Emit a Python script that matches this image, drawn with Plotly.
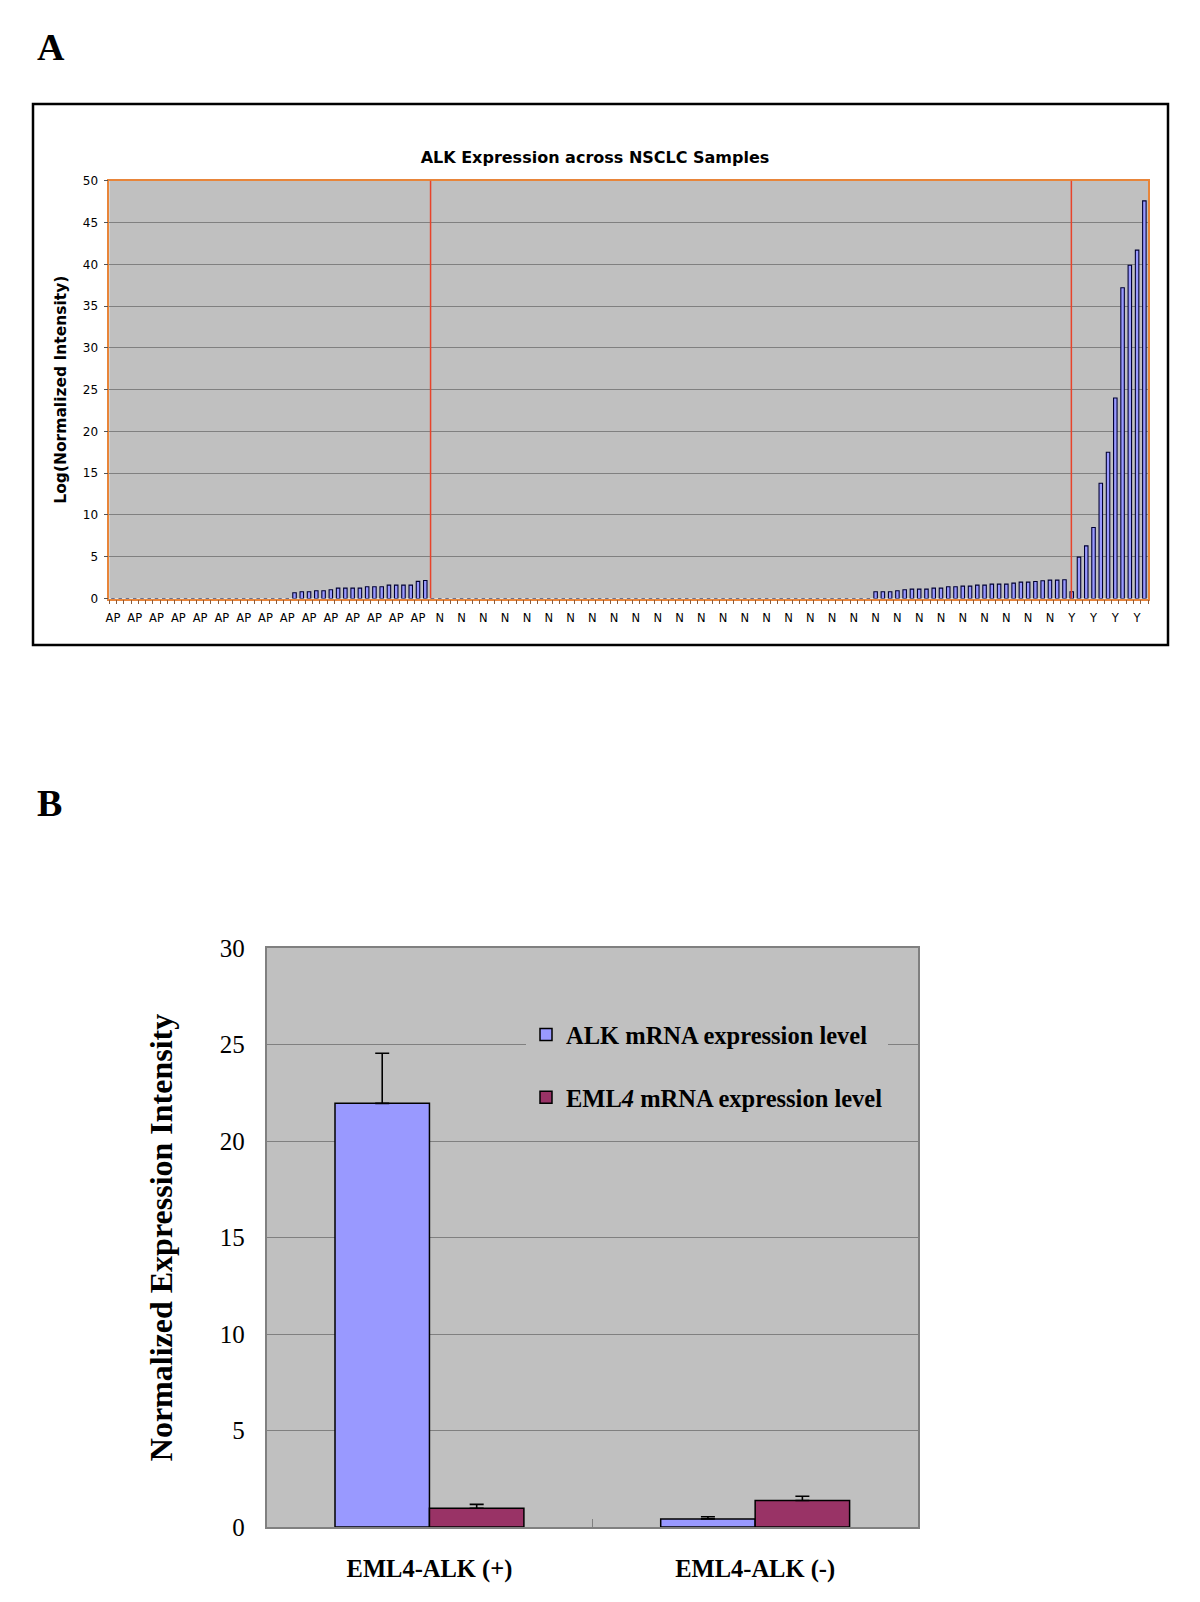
import plotly.graph_objects as go

# ---------------- Panel A data ----------------
ap_values = [0, 0, 0, 0, 0, 0, 0, 0, 0, 0, 0, 0, 0, 0, 0, 0, 0, 0, 0, 0, 0, 0, 0, 0, 0,
             0.68, 0.8, 0.8, 0.92, 0.92, 1.04, 1.24, 1.24, 1.24, 1.24, 1.4, 1.4, 1.4,
             1.6, 1.6, 1.6, 1.6, 2.05, 2.15]
n_values = [0, 0, 0, 0, 0, 0, 0, 0, 0, 0, 0, 0, 0, 0, 0, 0, 0, 0, 0, 0,
            0, 0, 0, 0, 0, 0, 0, 0, 0, 0, 0, 0, 0, 0, 0, 0, 0, 0, 0, 0,
            0, 0, 0, 0, 0, 0, 0, 0, 0, 0, 0, 0, 0, 0, 0, 0, 0, 0, 0, 0, 0,
            0.8, 0.8, 0.8, 0.92, 1.04, 1.12, 1.12, 1.12, 1.24, 1.24, 1.4, 1.4, 1.48,
            1.48, 1.6, 1.6, 1.72, 1.72, 1.72, 1.84, 1.96, 1.96, 2.04, 2.12, 2.2, 2.2, 2.25]
y_values = [0.8, 4.95, 6.3, 8.5, 13.8, 17.5, 24.0, 37.2, 39.9, 41.7, 47.6]
group_names = ["AP", "N", "Y"]

# ---------------- Panel B data ----------------
b_categories = ["EML4-ALK (+)", "EML4-ALK (-)"]
alk_values = [21.95, 0.42]
alk_errors = [2.6, 0.11]
eml4_values = [0.97, 1.37]
eml4_errors = [0.2, 0.22]

# ---------------- derived ----------------
all_values = ap_values + n_values + y_values
all_groups = ([group_names[0]] * len(ap_values) + [group_names[1]] * len(n_values)
              + [group_names[2]] * len(y_values))
x_idx = list(range(len(all_values)))
tick_idx = x_idx[::3]
tick_txt = [all_groups[i] for i in tick_idx]
sep1 = len(ap_values) - 0.27
sep2 = len(ap_values) + len(n_values) - 0.05

W, H = 1200, 1602
OFF = 8  # page body margin compensation
def px(x):
    return (x - OFF) / W
def py(y):
    return 1 - (y - OFF) / H

fig = go.Figure()

fig.add_trace(go.Bar(
    x=x_idx, y=all_values, width=0.48,
    marker=dict(color="#9999FF", line=dict(color="#000033", width=1.1)),
    xaxis="x", yaxis="y", showlegend=False, hoverinfo="x+y"))

fig.add_trace(go.Bar(
    x=b_categories, y=alk_values, name="ALK mRNA expression level",
    legendgroup="alk",
    marker=dict(color="#9999FF", line=dict(color="#000000", width=1.5)),
    error_y=dict(type="data", symmetric=False, array=alk_errors, arrayminus=[0, 0],
                 color="#000000", thickness=1.6, width=7),
    xaxis="x2", yaxis="y2"))
fig.add_trace(go.Bar(
    x=b_categories, y=eml4_values, name="EML<i>4</i> mRNA expression level",
    legendgroup="eml4",
    marker=dict(color="#993366", line=dict(color="#000000", width=1.5)),
    error_y=dict(type="data", symmetric=False, array=eml4_errors, arrayminus=[0, 0],
                 color="#000000", thickness=1.6, width=7),
    xaxis="x2", yaxis="y2"))

sansA = "DejaVu Sans"
serif = "Liberation Serif"
orange = "#E8853A"

fig.update_layout(
    width=W, height=H, margin=dict(l=0, r=0, t=0, b=0, autoexpand=False),
    paper_bgcolor="white", plot_bgcolor="#C0C0C0",
    barmode="group", bargap=0.42, bargroupgap=0,
    title=dict(text="ALK Expression across NSCLC Samples", x=px(595), y=py(157),
               xanchor="center", yanchor="middle",
               font=dict(family=sansA, size=16, color="#000000", weight="bold")),
    xaxis=dict(domain=[px(109.3), px(1148)], anchor="y", range=[-0.5, len(all_values) - 0.5],
               automargin=False,
               tickmode="array", tickvals=tick_idx, ticktext=tick_txt, ticks="",
               tickfont=dict(family=sansA, size=11.5, color="#000000"),
               ticklabelstandoff=8,
               minor=dict(tickmode="linear", tick0=-0.5, dtick=1, ticks="outside",
                          ticklen=4, tickcolor="#8a5a3a", showgrid=False),
               showgrid=False, zeroline=False,
               showline=True, linecolor=orange, linewidth=1.5, mirror=True),
    yaxis=dict(domain=[py(598.5), py(180.8)], anchor="x", range=[0, 50], dtick=5,
               automargin=False,
               ticks="outside", ticklen=4, tickcolor="#555555",
               tickfont=dict(family=sansA, size=12, color="#000000"),
               ticklabelstandoff=3,
               showgrid=True, gridcolor="#808080", gridwidth=1, zeroline=False,
               showline=True, linecolor=orange, linewidth=1.5, mirror=True,
               title=dict(text="Log(Normalized Intensity)", standoff=12,
                          font=dict(family=sansA, size=15.5, color="#000000", weight="bold"))),
    xaxis2=dict(domain=[px(266.6), px(918)], anchor="y2", type="category",
                automargin=False,
                tickson="boundaries", ticks="inside", ticklen=8, tickcolor="#808080",
                tickfont=dict(family=serif, size=24.5, color="#000000", weight="bold"),
                ticklabelstandoff=19,
                showgrid=False, zeroline=False,
                showline=True, linecolor="#808080", linewidth=1.5, mirror=True),
    yaxis2=dict(domain=[py(1527), py(948)], anchor="x2", range=[0, 30], dtick=5,
                automargin=False,
                ticks="", tickfont=dict(family=serif, size=25, color="#000000"),
                ticklabelstandoff=15,
                showgrid=True, gridcolor="#808080", gridwidth=1, zeroline=False,
                showline=True, linecolor="#808080", linewidth=1.5, mirror=True,
                title=dict(text="Normalized Expression Intensity", standoff=38,
                           font=dict(family=serif, size=32, color="#000000", weight="bold"))),
    legend=dict(x=px(526), y=py(1012), xanchor="left", yanchor="top",
                bgcolor="#C0C0C0", borderwidth=0, traceorder="grouped",
                tracegroupgap=28,
                font=dict(family=serif, size=24.5, color="#000000", weight="bold")),
    shapes=[
        dict(type="rect", xref="paper", yref="paper", x0=px(33), x1=px(1168),
             y0=py(645), y1=py(104), line=dict(color="#000000", width=2.5)),
        dict(type="line", xref="x", yref="y domain", x0=sep1, x1=sep1, y0=0, y1=1,
             line=dict(color="#E8432A", width=1.5)),
        dict(type="line", xref="x", yref="y domain", x0=sep2, x1=sep2, y0=0, y1=1,
             line=dict(color="#E8432A", width=1.5)),
    ],
    annotations=[
        dict(text="A", xref="paper", yref="paper", x=px(35), y=py(47),
             xanchor="left", yanchor="middle", showarrow=False,
             font=dict(family=serif, size=38, color="#000000", weight="bold")),
        dict(text="B", xref="paper", yref="paper", x=px(35), y=py(803),
             xanchor="left", yanchor="middle", showarrow=False,
             font=dict(family=serif, size=38, color="#000000", weight="bold")),
    ],
)

fig.write_html("out.html")
